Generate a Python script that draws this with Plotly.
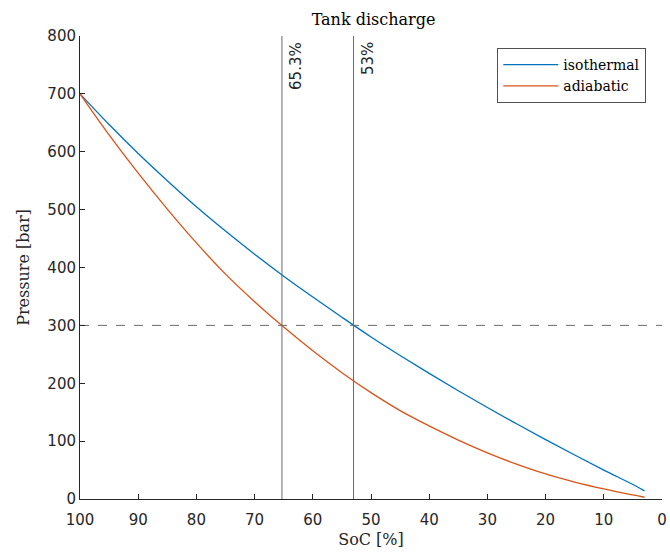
import plotly.graph_objects as go

# State of charge [%] (x axis runs from full to empty)
soc = [100, 95, 90, 85, 80, 75, 70, 65, 60, 55, 50, 45, 40, 35, 30, 25, 20, 15, 10, 5, 3]

# Tank pressure [bar] during discharge
p_isothermal = [700, 647, 597, 550, 505, 463, 423, 385, 349, 314, 280, 248, 217, 187, 158, 130, 102.5, 76, 50, 25, 14]
p_adiabatic = [700, 629, 563, 501, 442.5, 388.5, 341, 297, 256, 218.3, 183.8, 152.8, 126.3, 101.8, 79.8, 60.3, 43.3, 29.3, 17.5, 7, 3]

# Minimum pressure and the SoC at which each curve reaches it
p_min = 300
soc_marks = [65.3, 53]
soc_mark_labels = ["65.3%", "53%"]

x_range = [100, 0]
y_range = [0, 800]

blue = "#0072BD"
orange = "#D95319"
axis_col = "#262626"
ref_col = "#6a6a6a"
serif = "DejaVu Serif"
sans = "DejaVu Sans"

fig = go.Figure()

fig.add_trace(go.Scatter(x=soc, y=p_isothermal, mode="lines", name="isothermal",
                         line=dict(color=blue, width=1.3, shape="spline", smoothing=1.0)))
fig.add_trace(go.Scatter(x=soc, y=p_adiabatic, mode="lines", name="adiabatic",
                         line=dict(color=orange, width=1.3, shape="spline", smoothing=1.0)))

# Horizontal minimum-pressure line
fig.add_trace(go.Scatter(x=x_range, y=[p_min, p_min], mode="lines", showlegend=False,
                         hoverinfo="skip", line=dict(color=ref_col, width=1, dash="dash")))

# Vertical SoC markers with rotated labels
for s, lab in zip(soc_marks, soc_mark_labels):
    fig.add_trace(go.Scatter(x=[s, s], y=y_range, mode="lines", showlegend=False,
                             hoverinfo="skip", line=dict(color=ref_col, width=1)))
    fig.add_annotation(x=s, y=y_range[1], xref="x", yref="y", text=lab, showarrow=False,
                       textangle=-90, xanchor="left", yanchor="top", xshift=3, yshift=-4,
                       font=dict(family=sans, size=15, color=axis_col))

axis_common = dict(showgrid=False, zeroline=False, showline=True, linecolor=axis_col,
                   linewidth=1, ticks="inside", ticklen=5, tickcolor=axis_col,
                   tickfont=dict(family=sans, size=15, color=axis_col), mirror=False,
                   ticklabeloverflow="allow")

fig.update_layout(
    width=670, height=552,
    margin=dict(l=80, r=3, t=36, b=53),
    paper_bgcolor="white", plot_bgcolor="white",
    title=dict(text="Tank discharge", x=0.5575, xanchor="center", y=0.965, yanchor="middle",
               font=dict(family=serif, size=16, color="#000000")),
    xaxis=dict(range=x_range, dtick=10, tick0=0, ticklabelstandoff=7,
               title=dict(text="SoC [%]", font=dict(family=serif, size=16, color=axis_col), standoff=5),
               **axis_common),
    yaxis=dict(range=y_range, dtick=100, tick0=0,
               title=dict(text="Pressure [bar]", font=dict(family=serif, size=16, color=axis_col), standoff=13),
               **axis_common),
    legend=dict(x=0.973, y=0.974, xanchor="right", yanchor="top", bgcolor="white",
                bordercolor="#505050", borderwidth=1,
                font=dict(family=serif, size=14, color="#000000"),
                tracegroupgap=0, itemwidth=55),
    showlegend=True,
)

fig.write_html("out.html")
